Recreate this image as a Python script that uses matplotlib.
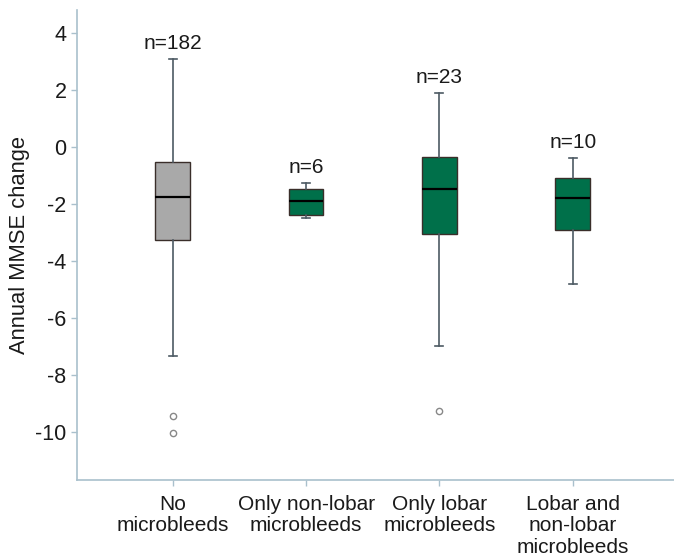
import matplotlib
matplotlib.use("Agg")
import matplotlib.pyplot as plt

plt.rcParams["font.family"] = ["Liberation Sans", "DejaVu Sans"]
plt.rcParams["axes.unicode_minus"] = False

# categories and box statistics
groups = ["No\nmicrobleeds", "Only non-lobar\nmicrobleeds", "Only lobar\nmicrobleeds",
          "Lobar and\nnon-lobar\nmicrobleeds"]
counts = [182, 6, 23, 10]
whislo = [-7.36, -2.51, -7.0, -4.83]
q1 = [-3.28, -2.38, -3.08, -2.91]
med = [-1.77, -1.92, -1.50, -1.79]
q3 = [-0.54, -1.48, -0.35, -1.10]
whishi = [3.08, -1.29, 1.89, -0.41]
outliers = [[-9.46, -10.04], [], [-9.27], []]
box_colors = ["#a9a9a9", "#00704a", "#00704a", "#00704a"]

spine_col = "#a9c0cc"
line_col = "#4d5a63"

stats = []
for i in range(len(groups)):
    stats.append(dict(whislo=whislo[i], q1=q1[i], med=med[i], q3=q3[i],
                      whishi=whishi[i], fliers=outliers[i]))

fig = plt.figure(figsize=(6.74, 5.6), dpi=100)
ax = fig.add_axes([0.114, 0.143, 0.886, 0.839])

pos = list(range(1, len(groups) + 1))
bp = ax.bxp(stats, positions=pos, widths=0.26, patch_artist=True, showfliers=True,
            capwidths=0.06,
            boxprops=dict(edgecolor="#3a2e2a", linewidth=1.0),
            medianprops=dict(color="black", linewidth=1.6),
            whiskerprops=dict(color=line_col, linewidth=1.2),
            capprops=dict(color=line_col, linewidth=1.2),
            flierprops=dict(marker="o", markersize=4.5, markerfacecolor="none",
                            markeredgecolor="#888888", markeredgewidth=1.0))
for patch, c in zip(bp["boxes"], box_colors):
    patch.set_facecolor(c)

for p, n, top in zip(pos, counts, whishi):
    ax.text(p, top + 0.22, f"n={n}", ha="center", va="bottom", fontsize=15,
            color="#1a1a1a")

ax.set_xlim(0.28, 4.76)
ax.set_ylim(-11.7, 4.8)
ax.set_yticks([4, 2, 0, -2, -4, -6, -8, -10])
ax.set_xticks(pos)
ax.set_xticklabels(groups, fontsize=15, color="#1a1a1a", linespacing=1.15)
ax.tick_params(axis="y", labelsize=15.5, labelcolor="#1a1a1a", color=spine_col,
               length=4, width=1)
ax.tick_params(axis="x", color=spine_col, length=4, width=1, pad=7)
ax.set_ylabel("Annual MMSE change", fontsize=15.8, color="#1a1a1a", labelpad=4)

for s in ["top", "right"]:
    ax.spines[s].set_visible(False)
for s in ["left", "bottom"]:
    ax.spines[s].set_color(spine_col)
    ax.spines[s].set_linewidth(1.2)

fig.savefig("out.png", dpi=100)
